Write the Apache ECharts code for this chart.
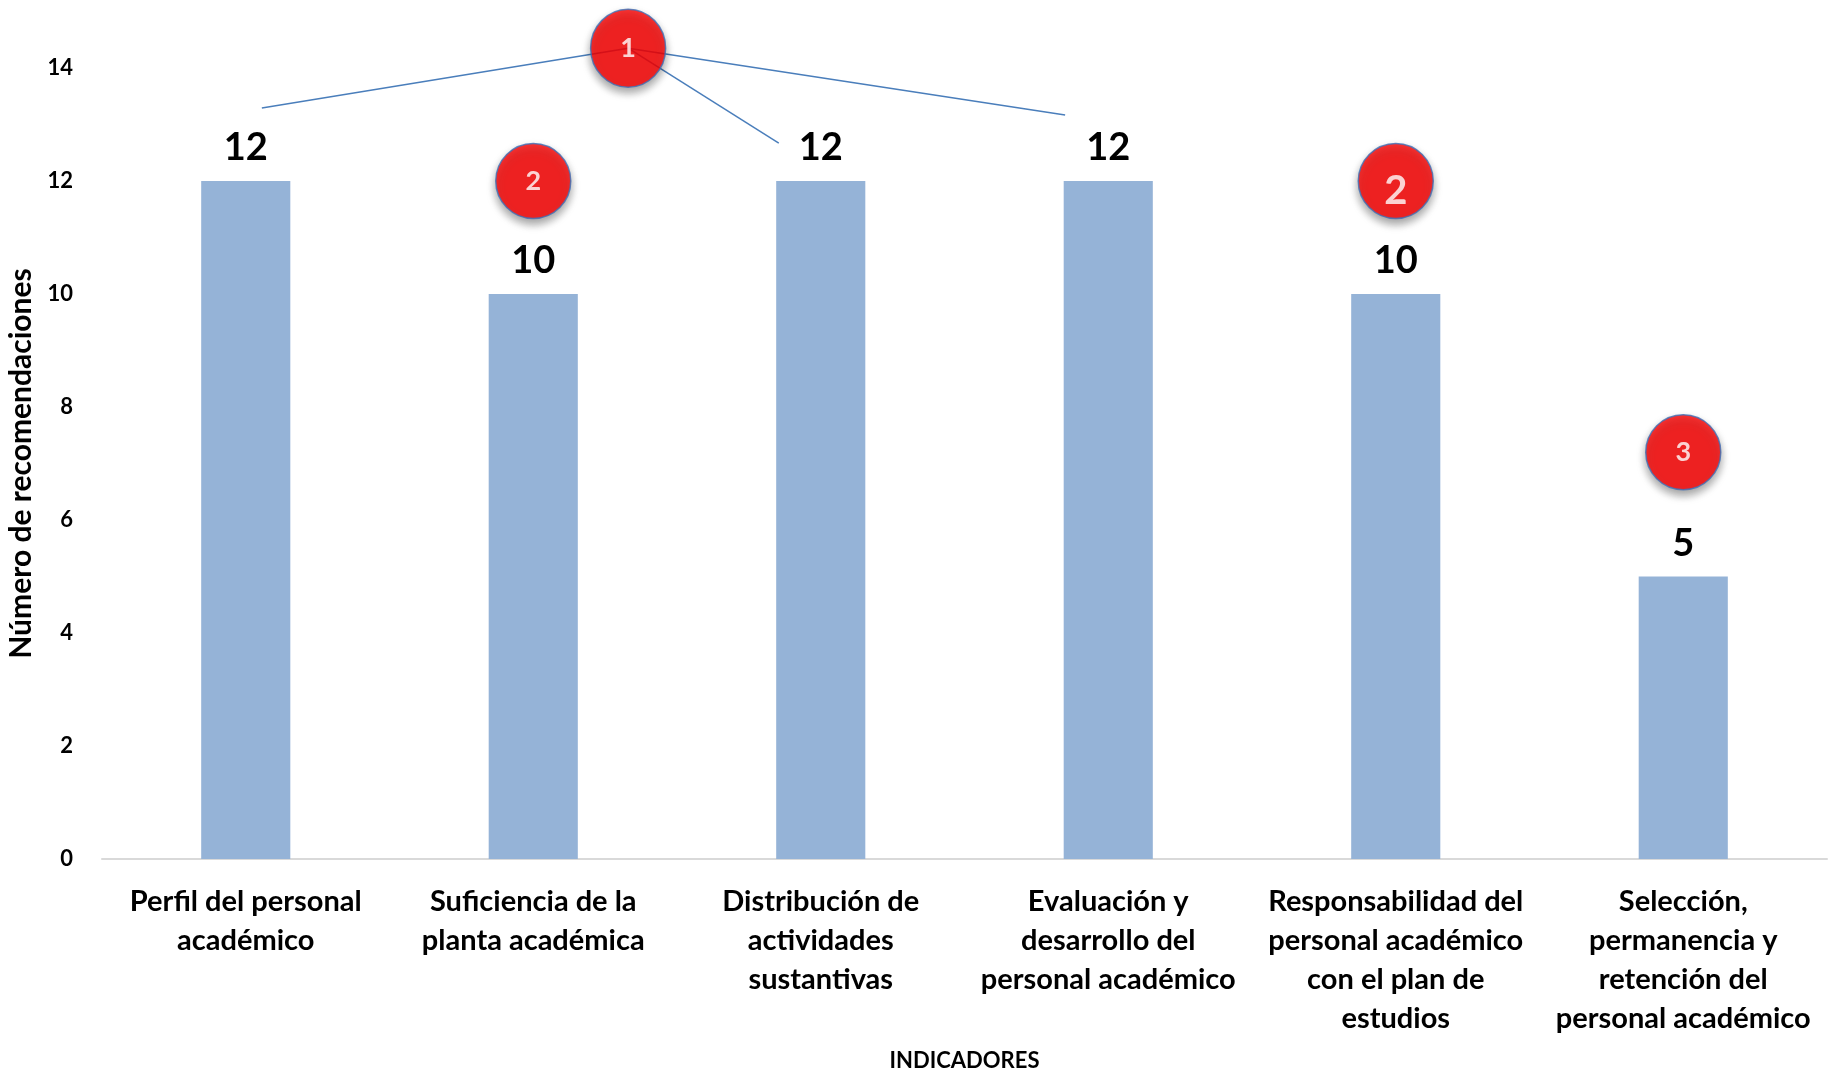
<!DOCTYPE html>
<html>
<head>
<meta charset="utf-8">
<title>Recomendaciones por indicador</title>
<script src="https://cdn.jsdelivr.net/npm/echarts@6/dist/echarts.min.js"></script>
<style>
    html, body { margin: 0; padding: 0; background: #fff; }
    #chart { width: 1833px; height: 1074px; }
</style>
</head>
<body>
<div id="chart"></div>
<script>
    // categorias del eje x (con saltos de linea como en el original)
    var indicadores = [
        'Perfil del personal\nacadémico',
        'Suficiencia de la\nplanta académica',
        'Distribución de\nactividades\nsustantivas',
        'Evaluación y\ndesarrollo del\npersonal académico',
        'Responsabilidad del\npersonal académico\ncon el plan de\nestudios',
        'Selección,\npermanencia y\nretención del\npersonal académico'
    ];
    var recomendaciones = [12, 10, 12, 12, 10, 5];
    var yTicks = [0, 2, 4, 6, 8, 10, 12, 14];

    // circulos rojos numerados (x en unidades de categoria, y en unidades del eje)
    var badgeText = ['1', '2', '2', '3'];
    var badgeX = [1.33, 1, 4, 5];
    var badgeY = [14.35, 12, 12, 7.2];

    // conectores del circulo 1 hacia las barras de 12
    var connectorA = [[0.056, 13.29], [1.33, 14.35], [2.85, 13.17]];
    var connectorB = [[1.33, 14.35], [1.854, 12.67]];

    var font = 'Lato, "Open Sans", sans-serif';

    var chart = echarts.init(document.getElementById('chart'));
    chart.setOption({
        animation: false,
        textStyle: { fontFamily: font },
        grid: { left: 102, right: 6, top: 68, bottom: 215, containLabel: false, outerBoundsMode: 'none' },
        xAxis: [{
            type: 'category',
            data: indicadores,
            name: 'INDICADORES',
            nameLocation: 'middle',
            nameGap: 191,
            nameTextStyle: { fontSize: 22, fontWeight: 'bold', color: '#000' },
            axisLine: { lineStyle: { color: '#d9d9d9', width: 2 } },
            axisTick: { show: false },
            axisLabel: {
                interval: 0,
                margin: 23,
                fontSize: 29,
                lineHeight: 39,
                fontWeight: 'bold',
                color: '#000'
            }
        }, {
            type: 'value',
            min: -0.5,
            max: 5.5,
            show: false
        }],
        yAxis: {
            type: 'value',
            min: yTicks[0],
            max: yTicks[yTicks.length - 1],
            interval: 2,
            name: 'Número de recomendaciones',
            nameLocation: 'middle',
            nameGap: 66,
            nameTextStyle: { fontSize: 30, fontWeight: 'bold', color: '#000' },
            axisLine: { show: false },
            axisTick: { show: false },
            splitLine: { show: false },
            axisLabel: { fontSize: 22, fontWeight: 'bold', color: '#000', margin: 29 }
        },
        series: [{
            type: 'bar',
            data: recomendaciones,
            barWidth: '31%',
            itemStyle: { color: '#95b3d7' },
            label: {
                show: true,
                position: 'top',
                distance: 14,
                fontSize: 38,
                fontWeight: 'bold',
                color: '#000'
            }
        }, {
            type: 'line',
            xAxisIndex: 1,
            data: connectorA,
            showSymbol: false,
            clip: false,
            lineStyle: { color: '#4a7ebb', width: 1.5 },
            z: 3
        }, {
            type: 'line',
            xAxisIndex: 1,
            data: connectorB,
            showSymbol: false,
            clip: false,
            lineStyle: { color: '#4a7ebb', width: 1.5 },
            z: 3
        }, {
            type: 'scatter',
            xAxisIndex: 1,
            z: 5,
            clip: false,
            data: badgeText.map(function (t, i) {
                return {
                    value: [badgeX[i], badgeY[i]],
                    symbolSize: i === 0 ? [75, 78] : 75,
                    label: i === 2 ? { fontSize: 40, offset: [0, 10] } : {}
                };
            }),
            symbol: 'circle',
            itemStyle: {
                color: '#ff0000',
                borderColor: '#3f6fb5',
                borderWidth: 1.5,
                shadowBlur: 8,
                shadowOffsetY: 5,
                shadowColor: 'rgba(0,0,0,0.45)'
            },
            label: {
                show: true,
                position: 'inside',
                fontSize: 27,
                fontWeight: 'bold',
                color: '#fff',
                formatter: function (p) { return badgeText[p.dataIndex]; }
            }
        }]
    });
</script>
</body>
</html>
